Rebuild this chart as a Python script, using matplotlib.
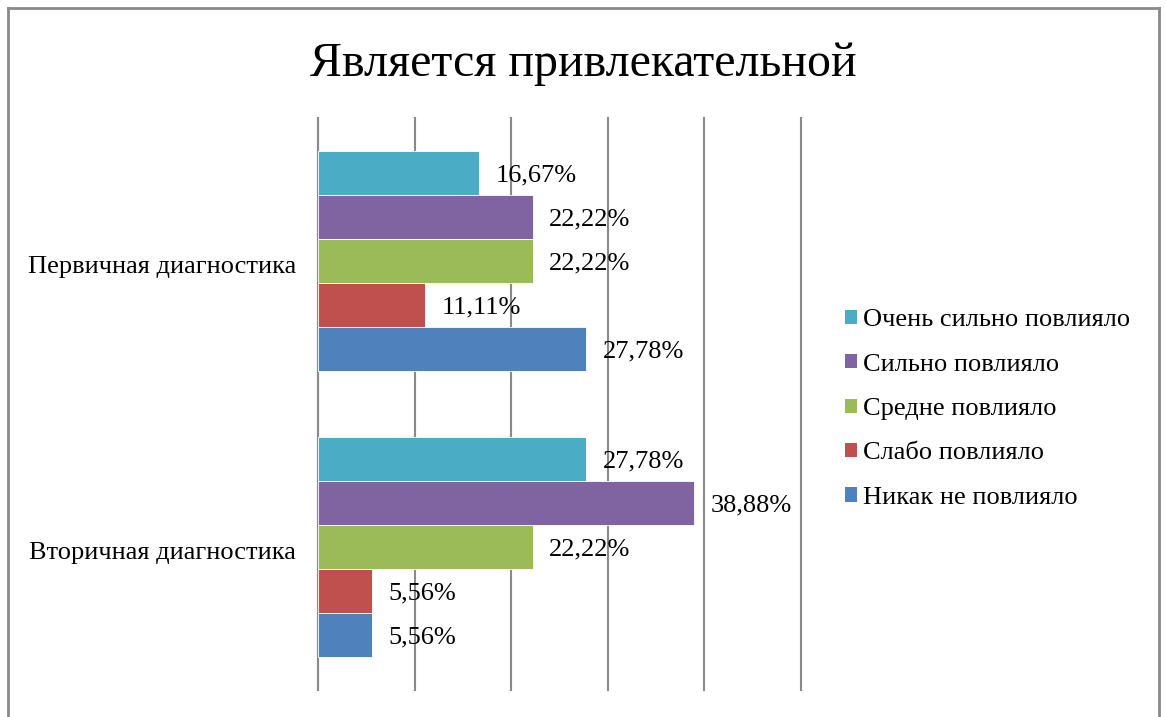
import numpy as np
import matplotlib.pyplot as plt
from matplotlib.patches import Patch
from matplotlib.lines import Line2D

plt.rcParams['font.family'] = ['Liberation Serif', 'DejaVu Serif']

# Данные диаграммы
categories = ["Вторичная диагностика", "Первичная диагностика"]
series_names = ["Никак не повлияло", "Слабо повлияло", "Средне повлияло",
                "Сильно повлияло", "Очень сильно повлияло"]
# значения в процентах: [Вторичная, Первичная]
nikak = [5.56, 27.78]
slabo = [5.56, 11.11]
sredne = [22.22, 22.22]
silno = [38.88, 22.22]
ochen = [27.78, 16.67]
labels_txt = {
    0: ["5,56%", "27,78%"],
    1: ["5,56%", "11,11%"],
    2: ["22,22%", "22,22%"],
    3: ["38,88%", "22,22%"],
    4: ["27,78%", "16,67%"],
}
colors = ["#4F81BD", "#C0504D", "#9BBB59", "#8064A2", "#4BACC6"]

W, H = 1166, 717
fig = plt.figure(figsize=(W / 100, H / 100), dpi=100)
ax = fig.add_axes([318 / W, (H - 690) / H, (801 - 318) / W, (690 - 118) / H])

values = [nikak, slabo, sredne, silno, ochen]
n = len(values)
bar_h = 1 / 6.5
y = np.arange(len(categories))
for i, vals in enumerate(values):
    pos = y - 2 * bar_h + i * bar_h
    ax.barh(pos, vals, height=bar_h, color=colors[i], edgecolor='white', linewidth=0.6, zorder=3)
    for p, v, t in zip(pos, vals, labels_txt[i]):
        ax.annotate(t, (v, p), xytext=(12, -2), textcoords='offset points',
                    va='center', ha='left', fontsize=19, zorder=4)

ax.set_xlim(0, 50)
ax.set_ylim(-0.5, 1.5)
ax.set_xticks(np.arange(0, 51, 10))
ax.xaxis.grid(True, color='#8a8a8a', linewidth=1.5, zorder=0)
for gl in ax.get_xgridlines():
    gl.set_clip_on(False)
ax.tick_params(axis='x', length=0, labelbottom=False)
ax.set_yticks(y - 0.012)
ax.set_yticklabels(categories, fontsize=19)
ax.tick_params(axis='y', length=0, pad=16)
for s in ['top', 'right', 'bottom']:
    ax.spines[s].set_visible(False)
ax.spines['left'].set_color('#8a8a8a')
ax.spines['left'].set_linewidth(1.5)

fig.suptitle("Является привлекательной", fontsize=34.5, x=0.5, y=1 - 42 / H, va='top')

handles = [Patch(facecolor=colors[i]) for i in range(n - 1, -1, -1)]
names = [series_names[i] for i in range(n - 1, -1, -1)]
fig.legend(handles, names, loc='center left', bbox_to_anchor=(821 / W, (H - 409) / H),
           frameon=False, fontsize=19, handlelength=0.45, handleheight=0.45,
           handletextpad=0.25, labelspacing=0.85)

# рамка вокруг диаграммы
fig.add_artist(Line2D([8 / W, 8 / W], [0, 1 - 8 / H], color='#8a8a8a', linewidth=2))
fig.add_artist(Line2D([8 / W, 1159 / W], [1 - 8 / H, 1 - 8 / H], color='#8a8a8a', linewidth=2))
fig.add_artist(Line2D([1159 / W, 1159 / W], [0, 1 - 8 / H], color='#8a8a8a', linewidth=2))

fig.savefig("out.png", dpi=100)
